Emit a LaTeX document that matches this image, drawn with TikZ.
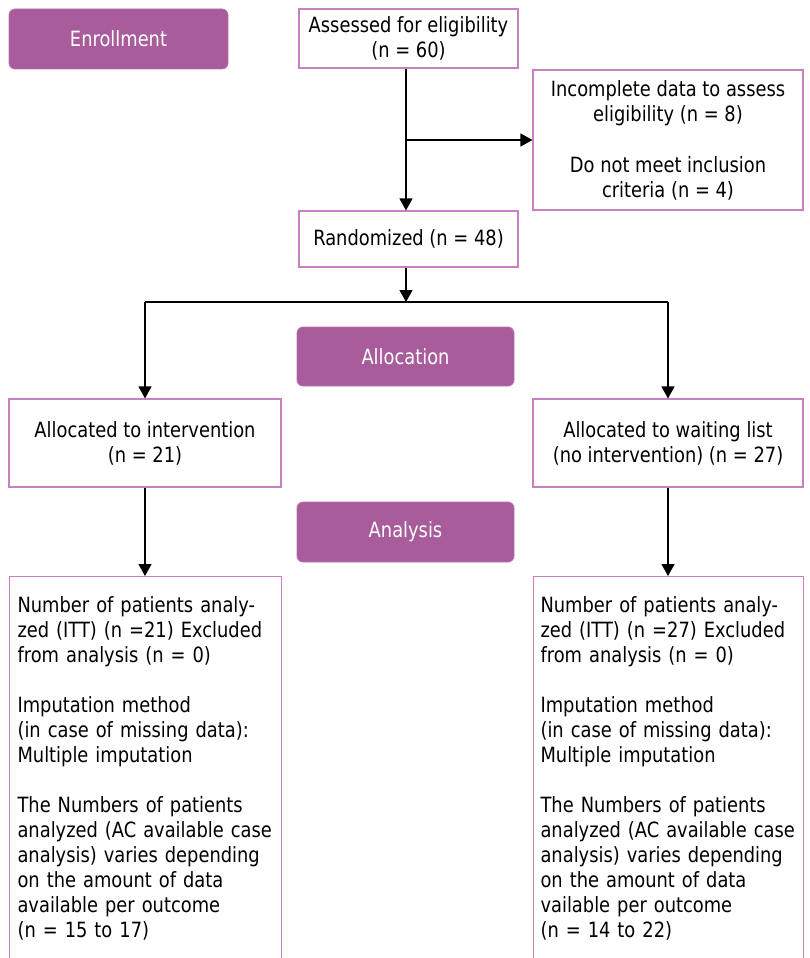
\documentclass[tikz,border=0pt]{standalone}
\usepackage{fontspec}
\setmainfont[FakeStretch=0.85]{DejaVu Sans}
\usetikzlibrary{arrows.meta}
\definecolor{purp}{RGB}{168,92,156}
\definecolor{edgec}{RGB}{200,128,192}
\begin{document}
\begin{tikzpicture}[x=1pt,y=-1pt,
  font=\fontsize{21}{25}\selectfont,
  phase/.style={fill=purp, draw=purp!85!white, line width=0.8pt, rounded corners=6pt, text=white, inner sep=0pt},
  wbox/.style={draw=edgec, line width=1.1pt, fill=white, inner sep=0pt, align=center},
  longbox/.style={draw=edgec, line width=1.1pt, fill=white, anchor=north west, inner ysep=9pt,
     text width=256pt, align=left, text height=27pt, text depth=380pt},
  conn/.style={line width=1.2pt, -{Triangle[width=13pt,length=12pt]}},
  plain/.style={line width=1.2pt}
  ]
\useasboundingbox (0,0) rectangle (809,958);
\clip (0,0) rectangle (809,958);

% phase labels
\node[phase, minimum width=219pt, minimum height=60pt] (enroll) at (118.5,39) {Enrollment};
\node[phase, minimum width=217pt, minimum height=59pt] (allocl) at (405.5,356.5) {Allocation};
\node[phase, minimum width=217pt, minimum height=60pt] (analysl) at (405.5,532) {Analysis};

% boxes
\node[wbox, minimum width=219pt, minimum height=59pt] (assess) at (408.5,38.5) {Assessed for eligibility\\(n = 60)};
\node[wbox, minimum width=270pt, minimum height=140pt] (excl) at (668,140) {Incomplete data to assess\\eligibility (n = 8)\\[26pt]Do not meet inclusion\\criteria (n = 4)};
\node[wbox, minimum width=219pt, minimum height=56pt] (rand) at (408.5,239) {Randomized (n = 48)};
\node[wbox, minimum width=272pt, minimum height=88pt] (alloca) at (145,443) {Allocated to intervention\\(n = 21)};
\node[wbox, minimum width=270pt, minimum height=88pt] (allocb) at (668,443) {Allocated to waiting list\\(no intervention) (n = 27)};

\node[longbox, inner xsep=8pt] (anaa) at (9,576) {\mbox{Number of patients analy-}\\\mbox{zed (ITT) (n =21) Excluded}\\from analysis (n = 0)\\[25pt]Imputation method\\\mbox{(in case of missing data):}\\Multiple imputation\\[25pt]\mbox{The Numbers of patients}\\\mbox{analyzed (AC available case}\\\mbox{analysis) varies depending}\\\mbox{on the amount of data}\\\mbox{available per outcome}\\(n = 15 to 17)};
\node[longbox, inner xsep=7pt] (anab) at (533,576) {\mbox{Number of patients analy-}\\\mbox{zed (ITT) (n =27) Excluded}\\from analysis (n = 0)\\[25pt]Imputation method\\\mbox{(in case of missing data):}\\Multiple imputation\\[25pt]\mbox{The Numbers of patients}\\\mbox{analyzed (AC available case}\\\mbox{analysis) varies depending}\\\mbox{on the amount of data}\\\mbox{vailable per outcome}\\(n = 14 to 22)};

% connectors
\coordinate (branch) at (406,140);
\coordinate (split) at (406,302);
\coordinate (splitl) at (alloca.north |- split);
\coordinate (splitr) at (allocb.north |- split);
\draw[conn] (assess.south -| split) -- (rand.north -| split);
\draw[conn] (branch) -- (excl.west);
\draw[conn] (rand.south -| split) -- (split);
\draw[plain] (splitl) -- (splitr);
\draw[conn] (splitl) -- (alloca.north);
\draw[conn] (splitr) -- (allocb.north);
\draw[conn] (alloca.south) -- (anaa.north -| alloca.south);
\draw[conn] (allocb.south) -- (anab.north -| allocb.south);
\end{tikzpicture}
\end{document}
